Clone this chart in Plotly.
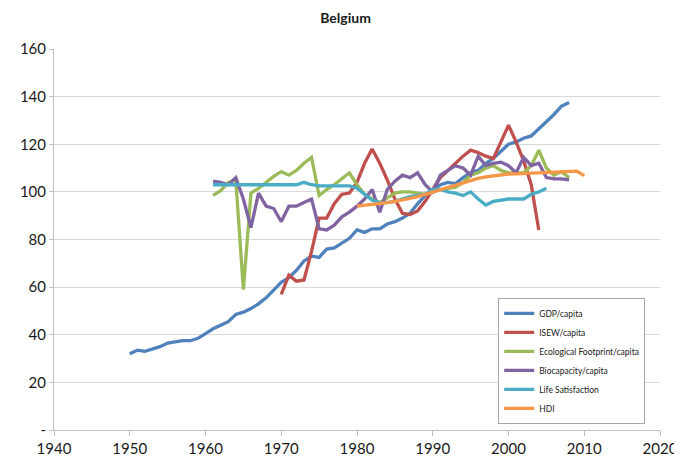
import plotly.graph_objects as go

gdp_years = list(range(1950, 2009))
gdp = [32, 33.5, 33, 34, 35, 36.5, 37, 37.5, 37.5, 38.5,
       40.5, 42.5, 44, 45.5, 48.5, 49.5, 51, 53, 55.5, 59,
       62, 64, 67, 71, 73, 72.5, 76, 76.5, 78.5, 80.5,
       84, 83, 84.5, 84.5, 86.5, 87.5, 89, 91, 95, 98.5,
       101, 103, 104, 103.5, 106, 108, 109, 112, 114, 117,
       120, 121, 122.5, 123.5, 126.5, 129.5, 132.5, 136, 137.5]

isew_years = list(range(1970, 2005))
isew = [57, 65, 62.5, 63, 75, 89, 89, 95, 99, 99.5,
        104, 112, 118, 112, 105, 97, 91, 90.5, 92, 96,
        101, 106, 109, 112, 115, 117.5, 116.5, 115, 114, 121,
        128, 121, 113, 103, 84]

ef_years = list(range(1961, 2009))
ef = [98.5, 100.5, 104, 105, 59, 99.5, 101.5, 104, 106.5, 108.5,
      107, 109, 112, 114.5, 98.5, 101, 103, 105.5, 108, 103,
      99, 97, 95.5, 97.5, 99.5, 100, 100, 99.5, 99, 100,
      101, 101.5, 102, 104, 107, 108, 110, 111, 109, 108,
      108, 108, 111, 117.5, 110, 107, 108.5, 106]

bio_years = list(range(1961, 2009))
bio = [104.5, 104, 103, 106, 97, 85, 99.5, 94, 93, 87.5,
       94, 94, 95.5, 97, 84.5, 84, 86, 89.5, 91.5, 94,
       97, 101, 91.5, 101, 104.5, 107, 106, 108, 103, 100,
       107, 109, 111, 110, 107, 115, 111, 112, 112.5, 111,
       108, 114.5, 111, 112, 106, 105.5, 105.5, 105]

ls_years = list(range(1961, 2006))
ls = [103, 103, 103, 103, 103, 103, 103, 103, 103, 103,
      103, 103, 104, 103, 102.5, 102.5, 102.5, 102.5, 102.5, 101.5,
      99, 96.5, 95.5, 95.5, 96, 97, 98, 98.5, 99, 101,
      101, 100, 99.5, 98.5, 100, 97, 94.5, 96, 96.5, 97,
      97, 97, 99, 100, 101.5]

hdi_years = list(range(1980, 2011))
hdi = [94, 94.3, 94.6, 95, 95.5, 96, 96.5, 97.3, 98, 99,
       100, 101, 102, 103, 104, 105, 105.7, 106.3, 106.8, 107.2,
       107.5, 107.6, 107.7, 107.8, 107.9, 108, 108.2, 108.4, 108.6, 108.7,
       106.8]

series = [
    ("GDP/capita", gdp_years, gdp, "#4F81BD"),
    ("ISEW/capita", isew_years, isew, "#C0504D"),
    ("Ecological Footprint/capita", ef_years, ef, "#9BBB59"),
    ("Biocapacity/capita", bio_years, bio, "#8064A2"),
    ("Life Satisfaction", ls_years, ls, "#4BACC6"),
    ("HDI", hdi_years, hdi, "#F79646"),
]

y_ticks = [0, 20, 40, 60, 80, 100, 120, 140, 160]
y_labels = ["-", "20", "40", "60", "80", "100", "120", "140", "160"]
x_ticks = [1940, 1950, 1960, 1970, 1980, 1990, 2000, 2010, 2020]

fig = go.Figure()
for i, (name, xs, ys, col) in enumerate(series):
    fig.add_trace(go.Scatter(x=xs, y=ys, mode="lines", name=name,
                             legendgroup="g%d" % i,
                             line=dict(color=col, width=3.3)))

font_family = "Lato, Liberation Sans, sans-serif"
fig.update_layout(
    width=682, height=461,
    margin=dict(l=45, r=21, t=41, b=31),
    paper_bgcolor="white", plot_bgcolor="white",
    title=dict(text="<b>Belgium</b>", x=0.495, xanchor="center", y=0.978, yanchor="middle",
               font=dict(family=font_family, size=14, color="#1a1a1a")),
    font=dict(family=font_family, color="#1a1a1a"),
    showlegend=True,
    legend=dict(x=0.733, y=0.347, xanchor="left", yanchor="top",
                bgcolor="white", bordercolor="#a6a6a6", borderwidth=1,
                font=dict(family=font_family, size=8.5, color="#1a1a1a"),
                tracegroupgap=0, itemwidth=30),
)
fig.update_xaxes(range=[1940, 2020], tickvals=x_ticks, showgrid=False,
                 showline=True, linecolor="#bfbfbf", linewidth=1,
                 ticks="outside", ticklen=5, tickcolor="#bfbfbf",
                 tickfont=dict(size=15, family=font_family, color="#1a1a1a"), zeroline=False)
fig.update_yaxes(range=[0, 160], tickvals=y_ticks, ticktext=y_labels,
                 showgrid=True, gridcolor="#d9d9d9", gridwidth=1,
                 showline=True, linecolor="#bfbfbf", linewidth=1,
                 ticks="outside", ticklen=4, tickcolor="#bfbfbf",
                 tickfont=dict(size=15, family=font_family, color="#1a1a1a"), zeroline=False)

fig.write_html("out.html")
